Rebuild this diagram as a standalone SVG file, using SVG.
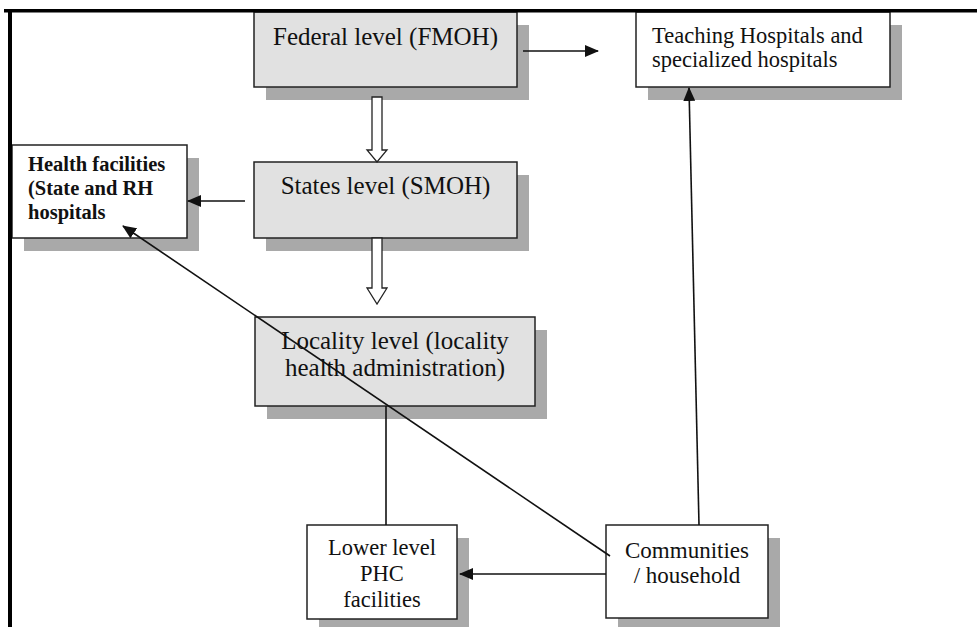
<svg xmlns="http://www.w3.org/2000/svg" width="977" height="627" viewBox="0 0 977 627">
<style>
.sh{fill:#a9a9a9}
.bx{stroke:#222;stroke-width:1.5}
.g{fill:#e1e1e1}
.w{fill:#fff}
.t{font-family:"Liberation Serif","Times New Roman",serif;fill:#111}
.c{stroke:#111;stroke-width:1.6;fill:none}
.h{fill:#fff;stroke:#222;stroke-width:1.3}
</style>
<defs>
<marker id="ah" markerUnits="userSpaceOnUse" markerWidth="14" markerHeight="12" viewBox="0 0 14 12" refX="13" refY="6" orient="auto">
<path d="M0,0 L14,6 L0,12 z" fill="#111"/>
</marker>
</defs>
<rect width="977" height="627" fill="#fff"/>
<g id="federal">
<rect class="sh" x="266" y="25" width="263" height="75"/>
<rect class="bx g" x="254" y="12" width="263" height="75"/>
<text class="t" x="385.5" y="45" font-size="25" text-anchor="middle">Federal level (FMOH)</text>
</g>
<g id="teaching">
<rect class="sh" x="648" y="25" width="254" height="75"/>
<rect class="bx w" x="636" y="12" width="254" height="75"/>
<text class="t" font-size="22.5"><tspan x="652" y="43">Teaching Hospitals and</tspan><tspan x="652" y="67">specialized hospitals</tspan></text>
</g>
<g id="states">
<rect class="sh" x="266" y="175" width="263" height="76"/>
<rect class="bx g" x="254" y="162" width="263" height="76"/>
<text class="t" x="385.5" y="194" font-size="25" text-anchor="middle">States level (SMOH)</text>
</g>
<g id="health">
<rect class="sh" x="24" y="158" width="175" height="93"/>
<rect class="bx w" x="12" y="145" width="175" height="93"/>
<text class="t" font-size="20.5" font-weight="bold"><tspan x="28" y="171">Health facilities</tspan><tspan x="28" y="195">(State and RH</tspan><tspan x="28" y="219">hospitals</tspan></text>
</g>
<g id="locality">
<rect class="sh" x="267" y="330" width="280" height="89"/>
<rect class="bx g" x="255" y="317" width="280" height="89"/>
<text class="t" font-size="25" text-anchor="middle"><tspan x="395" y="349">Locality level (locality</tspan><tspan x="395" y="376">health administration)</tspan></text>
</g>
<g id="lower">
<rect class="sh" x="319" y="538" width="150" height="94"/>
<rect class="bx w" x="307" y="525" width="150" height="94"/>
<text class="t" font-size="22.5" text-anchor="middle"><tspan x="382" y="555">Lower level</tspan><tspan x="382" y="581">PHC</tspan><tspan x="382" y="607">facilities</tspan></text>
</g>
<g id="communities">
<rect class="sh" x="618" y="538" width="162" height="93"/>
<rect class="bx w" x="606" y="525" width="162" height="93"/>
<text class="t" font-size="23" text-anchor="middle"><tspan x="687" y="558">Communities</tspan><tspan x="687" y="583">/ household</tspan></text>
</g>
<g id="connectors">
<line class="c" x1="523" y1="51" x2="598" y2="51" marker-end="url(#ah)"/>
<line class="c" x1="245" y1="201" x2="188" y2="201" marker-end="url(#ah)"/>
<line class="c" x1="699" y1="525" x2="689" y2="88" marker-end="url(#ah)"/>
<line class="c" x1="610" y1="556" x2="123" y2="226" marker-end="url(#ah)"/>
<line class="c" x1="606" y1="574" x2="460" y2="574" marker-end="url(#ah)"/>
<line class="c" x1="386" y1="406" x2="386" y2="525"/>
<polygon class="h" points="372,97 382,97 382,150 387,150 377,162 367,150 372,150"/>
<polygon class="h" points="372,238 382,238 382,288 387,288 377,304 367,288 372,288"/>
</g>
<g id="border">
<line x1="4" y1="10.75" x2="977" y2="10.75" stroke="#000" stroke-width="3.5"/>
<line x1="10" y1="9" x2="10" y2="627" stroke="#000" stroke-width="4"/>
</g>
</svg>
